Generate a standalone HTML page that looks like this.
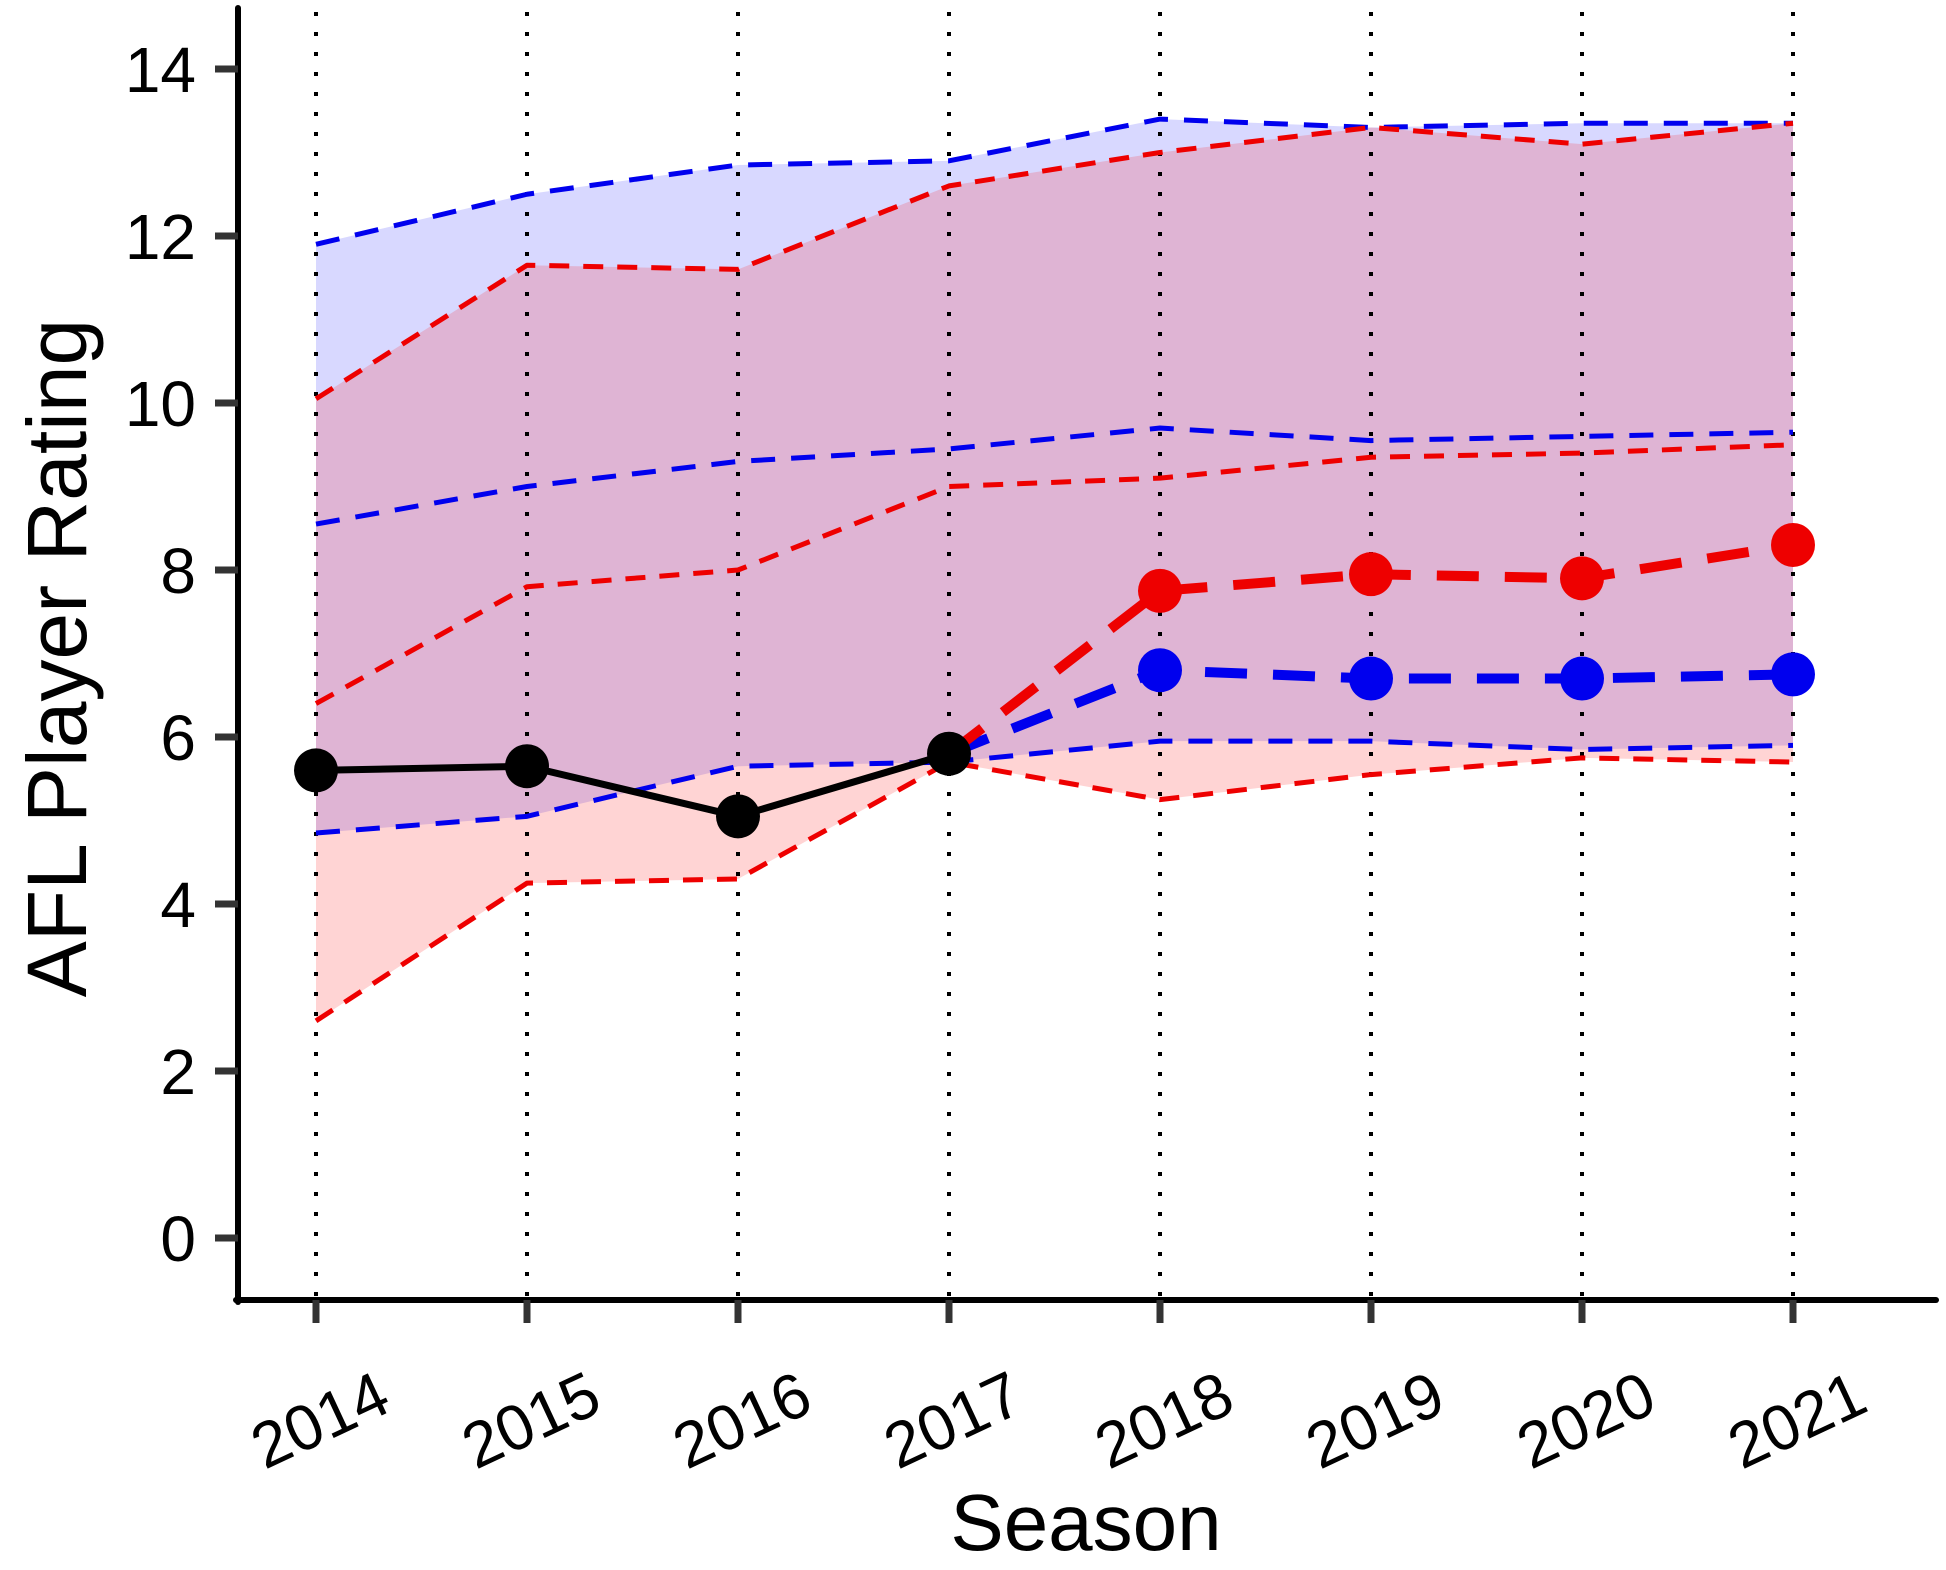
<!DOCTYPE html>
<html><head><meta charset="utf-8"><style>body{margin:0;background:#fff}svg{display:block}text{font-family:"Liberation Sans",Arial,sans-serif;fill:#000}</style></head>
<body>
<svg id="chart" width="1946" height="1570" viewBox="0 0 1946 1570" xmlns="http://www.w3.org/2000/svg">
<g id="bands"></g><g id="grid"></g><g id="lines"></g><g id="axes"></g>
</svg>
<script>
const seasons=[2014,2015,2016,2017,2018,2019,2020,2021];
const yTicks=[0,2,4,6,8,10,12,14];
const blueUpper=[11.9,12.5,12.85,12.9,13.4,13.3,13.35,13.35];
const blueMid=[8.55,9.0,9.3,9.45,9.7,9.55,9.6,9.65];
const blueLower=[4.85,5.05,5.65,5.7,5.95,5.95,5.85,5.9];
const redUpper=[10.05,11.65,11.6,12.6,13.0,13.3,13.1,13.35];
const redMid=[6.4,7.8,8.0,9.0,9.1,9.35,9.4,9.5];
const redLower=[2.6,4.25,4.3,5.7,5.25,5.55,5.75,5.7];
const actual=[5.6,5.65,5.05,5.8];
const projSeasons=[2017,2018,2019,2020,2021];
const redProj=[5.8,7.75,7.95,7.9,8.3];
const blueProj=[5.8,6.8,6.7,6.7,6.75];

const NS='http://www.w3.org/2000/svg';
const xS=s=>316+(s-2014)*211;
const yS=v=>1238-v*83.5;
function mk(parent,tag,attrs){const e=document.createElementNS(NS,tag);for(const k in attrs)e.setAttribute(k,attrs[k]);document.getElementById(parent).appendChild(e);return e;}
const pts=(xs,ys)=>xs.map((s,i)=>xS(s)+','+yS(ys[i])).join(' ');
function band(up,lo,fill,name){
  const p=seasons.map((s,i)=>xS(s)+','+yS(up[i])).concat(seasons.slice().reverse().map((s,j)=>{const i=seasons.length-1-j;return xS(s)+','+yS(lo[i]);})).join(' ');
  const e=mk('bands','polygon',{points:p,fill:fill});
  
  
}
band(blueUpper,blueLower,'rgba(60,60,255,0.2)','blue-band');
band(redUpper,redLower,'rgba(255,40,40,0.2)','red-band');

seasons.forEach(s=>{
  const e=mk('grid','line',{x1:xS(s),x2:xS(s),y1:12,y2:1300,stroke:'#000','stroke-width':4,'stroke-dasharray':'4 16'});
  
  
});

function dl(xs,ys,color,w,dash,name){
  const e=mk('lines','polyline',{points:pts(xs,ys),fill:'none',stroke:color,'stroke-width':w,'stroke-dasharray':dash,'stroke-linejoin':'round'});
  
  
}
dl(seasons,blueUpper,'#0000ee',5,'24 16','blue-upper-line');
dl(seasons,blueMid,'#0000ee',5,'24 16','blue-mid-line');
dl(seasons,blueLower,'#0000ee',5,'24 16','blue-lower-line');
dl(seasons,redUpper,'#ee0000',5,'20 14','red-upper-line');
dl(seasons,redMid,'#ee0000',5,'20 14','red-mid-line');
dl(seasons,redLower,'#ee0000',5,'20 14','red-lower-line');
dl(projSeasons,blueProj,'#0000ee',10,'42 26','blue-projection-line');
dl(projSeasons,redProj,'#ee0000',10,'42 26','red-projection-line');
const al=mk('lines','polyline',{points:pts(seasons.slice(0,actual.length),actual),fill:'none',stroke:'#000','stroke-width':7,'stroke-linejoin':'round'});


projSeasons.slice(1).forEach((s,i)=>{
  const b=mk('lines','circle',{cx:xS(s),cy:yS(blueProj[i+1]),r:22,fill:'#0000ee'});
  
  
  const r=mk('lines','circle',{cx:xS(s),cy:yS(redProj[i+1]),r:22,fill:'#ee0000'});
  
  
});
actual.forEach((v,i)=>{
  const c=mk('lines','circle',{cx:xS(seasons[i]),cy:yS(v),r:22,fill:'#000'});
  
  
});

const ya=mk('axes','line',{x1:238,x2:238,y1:8,y2:1302,stroke:'#000','stroke-width':6,'stroke-linecap':'round'});


const xa=mk('axes','line',{x1:236,x2:1936,y1:1300,y2:1300,stroke:'#000','stroke-width':6,'stroke-linecap':'round'});


yTicks.forEach(v=>{
  const t=mk('axes','line',{x1:215,x2:238,y1:yS(v),y2:yS(v),stroke:'#333','stroke-width':7});
  
  
  const l=mk('axes','text',{x:196,y:yS(v)+23,'text-anchor':'end','font-size':64});
  l.textContent=v;
  
  
});
seasons.forEach(s=>{
  const t=mk('axes','line',{x1:xS(s),x2:xS(s),y1:1300,y2:1323,stroke:'#333','stroke-width':7});
  
  
  const l=mk('axes','text',{x:xS(s)+4,y:1442,'text-anchor':'middle','font-size':64,transform:'rotate(-25 '+(xS(s)+4)+' 1420)'});
  l.textContent=s;
  
  
});
const xt=mk('axes','text',{x:1086,y:1550,'text-anchor':'middle','font-size':80});
xt.textContent='Season';


const yt=mk('axes','text',{x:0,y:0,'text-anchor':'middle','font-size':84,transform:'translate(86 658) rotate(-90)'});
yt.textContent='AFL Player Rating';


</script>
</body></html>
